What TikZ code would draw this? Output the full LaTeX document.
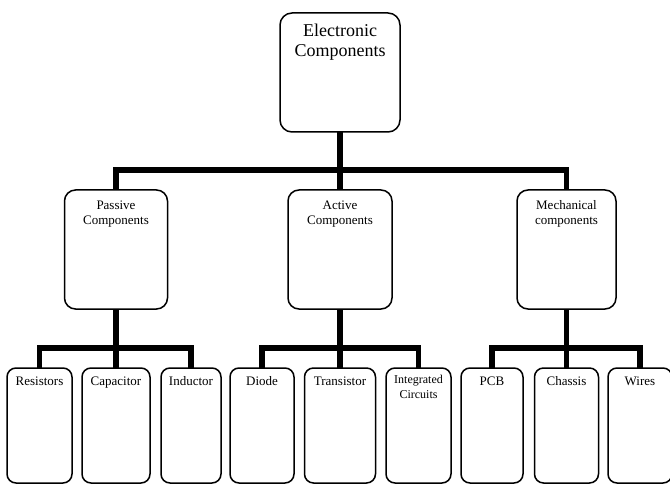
\documentclass[tikz,border=0pt]{standalone}
\usepackage{fontspec}
\setmainfont{Liberation Serif}
\newcommand{\bxt}[6]{\parbox[c][#2][t]{#1}{\centering\fontsize{#3}{#4}\selectfont\rule{0pt}{#5}#6\par}}
\tikzset{
  box/.style={draw, line width=1.5pt, inner sep=0pt, outer sep=0pt, fill=white},
  conn/.style={line width=5.5pt, line join=miter, line cap=butt},
}
\begin{document}
\begin{tikzpicture}[x=1pt, y=-1pt]
\useasboundingbox (0,0) rectangle (670,484);
% top
\node[box, rounded corners=12pt] (top) at (340,72.5) {\bxt{120pt}{119pt}{18}{20}{24pt}{Electronic\\Components}};
% middle
\node[box, rounded corners=11pt] (pas) at (116,249.5) {\bxt{103pt}{119pt}{13}{15}{19pt}{Passive\\Components}};
\node[box, rounded corners=11pt] (act) at (340,249.5) {\bxt{104pt}{119pt}{13}{15}{19pt}{Active\\Components}};
\node[box, rounded corners=11pt] (mech) at (566.5,249.5) {\bxt{99pt}{119pt}{13}{15}{19pt}{Mechanical\\components}};
% leaves
\node[box, rounded corners=9pt] (res) at (39.5,425.5) {\bxt{65pt}{115pt}{13}{15}{17pt}{Resistors}};
\node[box, rounded corners=9pt] (cap) at (116,425.5) {\bxt{68pt}{115pt}{13}{15}{17pt}{Capacitor}};
\node[box, rounded corners=9pt] (ind) at (191,425.5) {\bxt{60pt}{115pt}{13}{15}{17pt}{Inductor}};
\node[box, rounded corners=9pt] (dio) at (262,425.5) {\bxt{64pt}{115pt}{13}{15}{17pt}{Diode}};
\node[box, rounded corners=9pt] (tra) at (340,425.5) {\bxt{71pt}{115pt}{13}{15}{17pt}{Transistor}};
\node[box, rounded corners=9pt] (ic) at (418.5,425.5) {\bxt{65pt}{115pt}{12}{15}{15pt}{Integrated\\Circuits}};
\node[box, rounded corners=9pt] (pcb) at (492,425.5) {\bxt{62pt}{115pt}{13}{15}{17pt}{PCB}};
\node[box, rounded corners=9pt] (cha) at (566.5,425.5) {\bxt{64pt}{115pt}{13}{15}{17pt}{Chassis}};
\node[box, rounded corners=9pt] (wir) at (640,425.5) {\bxt{64pt}{115pt}{13}{15}{17pt}{Wires}};
% connectors level 1
\path (top.south) ++(0,38) coordinate (j1);
\draw[conn] (top.south) -- (act.north);
\draw[conn] (pas.north) |- (j1) -| (mech.north);
% connectors level 2
\path (pas.south) ++(0,39) coordinate (j2);
\draw[conn] (pas.south) -- (cap.north);
\draw[conn] (res.north) |- (j2) -| (ind.north);
\path (act.south) ++(0,39) coordinate (j3);
\draw[conn] (act.south) -- (tra.north);
\draw[conn] (dio.north) |- (j3) -| (ic.north);
\path (mech.south) ++(0,39) coordinate (j4);
\draw[conn] (mech.south) -- (cha.north);
\draw[conn] (pcb.north) |- (j4) -| (wir.north);
\end{tikzpicture}
\end{document}
